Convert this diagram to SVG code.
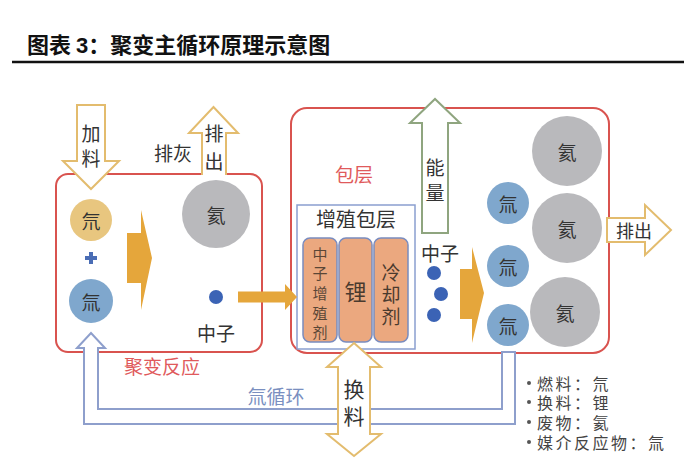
<svg xmlns="http://www.w3.org/2000/svg" width="684" height="465" viewBox="0 0 684 465">
<style>
text{font-family:"Noto Sans CJK SC","Noto Sans",sans-serif}
.lbl{font-size:19px;fill:#333;text-anchor:middle;dominant-baseline:central}
.red{fill:#e05a5c}
.box{fill:none;stroke:#d9534f;stroke-width:2}
.tan{fill:#fff;stroke:#e3bc6e;stroke-width:2}
.grn{fill:#fff;stroke:#8fa57f;stroke-width:2}
.org{fill:#e5a63b}
.he{fill:#b9b9bc}
.t{fill:#7fa7cd}
.d{fill:#e8c67f}
.col{fill:#eba87f;stroke:#7a8cbf;stroke-width:1.5}
.c1{font-size:15px;fill:#5a4636;text-anchor:middle;dominant-baseline:central}
.c3{font-size:19px;fill:#4a3a2e;text-anchor:middle;dominant-baseline:central}
.nd{fill:#3b63b5}
.leg{font-size:16px;letter-spacing:2.5px;fill:#444;dominant-baseline:central}
</style>
<rect width="684" height="465" fill="#fff"/>
<g id="title">
<text x="27" y="53" font-size="22" font-weight="700" fill="#111">图表 <tspan font-family="Liberation Sans,sans-serif">3</tspan>：聚变主循环原理示意图</text>
<line x1="12" y1="62" x2="684" y2="62" stroke="#111" stroke-width="2.5"/>
</g>
<g id="fusion">
<rect class="box" x="56" y="174" width="206" height="178" rx="12"/>
<text class="lbl red" x="162" y="365">聚变反应</text>
<circle class="d" cx="91" cy="220" r="21"/>
<text class="lbl" x="91" y="220">氘</text>
<rect x="85" y="256" width="12" height="4" fill="#4a6db5"/>
<rect x="89" y="252" width="4" height="12" fill="#4a6db5"/>
<circle class="t" cx="91" cy="301" r="22"/>
<text class="lbl" x="91" y="301">氚</text>
<circle class="he" cx="216" cy="214" r="34"/>
<text class="lbl" x="216" y="214">氦</text>
<circle class="nd" cx="216" cy="297" r="7"/>
<text class="lbl" x="216" y="332">中子</text>
<path class="org" d="M127,233 H141 V210 L152,258 L141,310 V283 H127 Z"/>
<text class="lbl" x="173" y="152">排灰</text>
</g>
<g id="blanket">
<rect class="box" x="291" y="108" width="318" height="245" rx="16"/>
<text class="lbl red" x="354" y="173">包层</text>
<rect x="297" y="205" width="118" height="144" fill="#fff" stroke="#8a9fcf" stroke-width="1.5"/>
<text class="lbl" x="356" y="218" style="font-size:20px">增殖包层</text>
<rect class="col" x="303" y="238" width="34" height="104" rx="7"/>
<rect class="col" x="339" y="238" width="33" height="104" rx="7"/>
<rect class="col" x="374" y="238" width="34" height="104" rx="7"/>
<text class="c1"><tspan x="320" y="253">中</tspan><tspan x="320" y="272">子</tspan><tspan x="320" y="292">增</tspan><tspan x="320" y="312">殖</tspan><tspan x="320" y="331">剂</tspan></text>
<text class="c3" x="355.5" y="290" style="font-size:22px">锂</text>
<text class="c3"><tspan x="391" y="271">冷</tspan><tspan x="391" y="293">却</tspan><tspan x="391" y="315">剂</tspan></text>
<text class="lbl" x="440" y="252">中子</text>
<circle class="nd" cx="434" cy="273" r="7"/>
<circle class="nd" cx="441" cy="294" r="7"/>
<circle class="nd" cx="434" cy="315" r="7"/>
<path class="org" d="M460,269 H472 V247 L484,293 L472,343 V319 H460 Z"/>
<circle class="he" cx="567" cy="151" r="35"/>
<text class="lbl" x="567" y="151">氦</text>
<circle class="he" cx="567" cy="228" r="35"/>
<text class="lbl" x="567" y="228">氦</text>
<circle class="he" cx="565" cy="312" r="35"/>
<text class="lbl" x="565" y="312">氦</text>
<circle class="t" cx="508" cy="203" r="21"/>
<text class="lbl" x="508" y="203">氚</text>
<circle class="t" cx="508" cy="266" r="21"/>
<text class="lbl" x="508" y="266">氚</text>
<circle class="t" cx="508" cy="325" r="21"/>
<text class="lbl" x="508" y="325">氚</text>
</g>
<g id="connectors">
<path class="org" d="M238,291.5 H285 V284 L297,297 L285,310 V302.5 H238 Z"/>
<path class="tan" d="M77,105 H105 V161 H119 L91,189 L63,161 H77 Z"/>
<path class="tan" d="M202,175 V133 H189 L213.5,107 L238,133 H226 V175"/>
<path class="grn" d="M422,233 V123 H410 L435,99 L460,123 H448 V233 Z"/>
<path class="tan" d="M607,218 H645 V205 L671,230 L645,255 V242 H607 Z"/>
<path d="M502,352 V409 H98 V348 H105 L91,333 L77,348 H84 V424 H515 V352 Z" fill="#fff" stroke="#8e9fcc" stroke-width="2"/>
<path class="tan" d="M354,343 L381,367 H370 V434 H381 L354,456 L327,434 H338 V367 H327 Z"/>
</g>
<g id="labels">
<text class="lbl" x="91" y="132">加</text>
<text class="lbl" x="91" y="157">料</text>
<text class="lbl" x="214" y="132">排</text>
<text class="lbl" x="214" y="160">出</text>
<text class="lbl" x="435" y="166">能</text>
<text class="lbl" x="435" y="191">量</text>
<text class="lbl" x="634" y="230" style="font-size:18px">排出</text>
<text class="lbl" x="276" y="395" style="fill:#7a8fc0">氚循环</text>
<text class="lbl" x="354" y="388" style="font-size:21px">换</text>
<text class="lbl" x="354" y="415" style="font-size:21px">料</text>
</g>
<g id="legend">
<circle cx="529" cy="383" r="2" fill="#555"/>
<circle cx="529" cy="402" r="2" fill="#555"/>
<circle cx="529" cy="422" r="2" fill="#555"/>
<circle cx="529" cy="442" r="2" fill="#555"/>
<text class="leg"><tspan x="537" y="383">燃料：氘</tspan><tspan x="537" y="402">换料：锂</tspan><tspan x="537" y="422">废物：氦</tspan><tspan x="537" y="442">媒介反应物：氚</tspan></text>
</g>
</svg>
